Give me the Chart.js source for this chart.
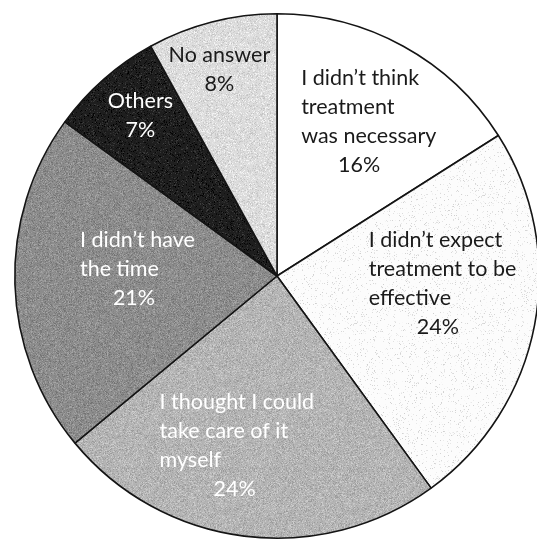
<!DOCTYPE html>
<html>
<head>
<meta charset="utf-8">
<script src="https://cdn.jsdelivr.net/npm/chart.js@4"></script>
<style>
  html, body { margin: 0; padding: 0; background: #fff; overflow: hidden; }
  body { width: 537px; height: 539px; position: relative; }
  #wrap { position: absolute; left: 2px; top: 1px; width: 550px; height: 550px; }
</style>
</head>
<body>
<div id="wrap"><canvas id="reasons" width="550" height="550"></canvas></div>
<script>
// reasons for not seeking treatment, share of answers (%)
const reasons = [
  ['I didn\u2019t think', 'treatment', 'was necessary'],
  ['I didn\u2019t expect', 'treatment to be', 'effective'],
  ['I thought I could', 'take care of it', 'myself'],
  ['I didn\u2019t have', 'the time'],
  ['Others'],
  ['No answer']
];
const shares = [16, 24, 24, 21, 7, 8];

// grey level, grain spread and how many pixels get grain (0..1)
const shades = [
  { grey: 255, spread: 0, amount: 0 },
  { grey: 252, spread: 45, amount: 0.1 },
  { grey: 180, spread: 28, amount: 0.6 },
  { grey: 140, spread: 28, amount: 0.6 },
  { grey: 30, spread: 35, amount: 0.35 },
  { grey: 220, spread: 28, amount: 0.5 }
];
const inks = ['#1a1a1a', '#1a1a1a', '#ffffff', '#ffffff', '#ffffff', '#1a1a1a'];

// label placement relative to each slice's centroid:
// dx = left edge (or centre when centred), dy = first baseline, px = centre of the % line
const labelPlace = [
  { dx: -39, dy: -76, px: 19 },
  { dx: -37, dy: -54, px: 32 },
  { dx: -101, dy: 3, px: -26 },
  { dx: -66, dy: -33, px: -12 },
  { dx: -50, dy: -70, center: true },
  { dx: -25, dy: -87, center: true }
];
const lineStep = 29;

// cheap integer hash so the grain is the same on every load
const hash = (x, y, k) => {
  let h = Math.imul(x, 374761393) + Math.imul(y, 668265263) + Math.imul(k, 2246822519);
  h = Math.imul(h ^ (h >>> 13), 1274126177);
  return ((h ^ (h >>> 16)) >>> 0) / 4294967296;
};

const grain = (shade, k) => {
  const size = 128;
  const tile = document.createElement('canvas');
  tile.width = tile.height = size;
  const tctx = tile.getContext('2d');
  const img = tctx.createImageData(size, size);
  for (let y = 0; y < size; y++) {
    for (let x = 0; x < size; x++) {
      let v = shade.grey;
      if (hash(x, y, k) < shade.amount) {
        v += (hash(x, y, k + 17) - 0.5) * 2 * shade.spread;
        if (shade.grey > 240) v = shade.grey - hash(x, y, k + 31) * shade.spread;
      }
      v = Math.max(0, Math.min(255, Math.round(v)));
      const o = (y * size + x) * 4;
      img.data[o] = img.data[o + 1] = img.data[o + 2] = v;
      img.data[o + 3] = 255;
    }
  }
  tctx.putImageData(img, 0, 0);
  return tctx.createPattern(tile, 'repeat');
};

const sliceLabels = {
  id: 'sliceLabels',
  afterDatasetsDraw(chart) {
    const ctx = chart.ctx;
    const arcs = chart.getDatasetMeta(0).data;
    ctx.save();
    ctx.font = '21.5px Lato, "Liberation Sans", sans-serif';
    ctx.textBaseline = 'alphabetic';
    arcs.forEach((arc, i) => {
      const pos = arc.tooltipPosition();
      const place = labelPlace[i];
      ctx.fillStyle = inks[i];
      let y = pos.y + place.dy;
      reasons[i].forEach(line => {
        ctx.textAlign = place.center ? 'center' : 'left';
        ctx.fillText(line, pos.x + place.dx, y);
        y += lineStep;
      });
      ctx.textAlign = 'center';
      const pctX = place.center ? pos.x + place.dx : pos.x + place.px;
      ctx.fillText(shares[i] + '%', pctX, y);
    });
    ctx.restore();
  }
};

new Chart(document.getElementById('reasons'), {
  type: 'pie',
  data: {
    labels: reasons.map(r => r.join(' ')),
    datasets: [{
      data: shares,
      backgroundColor: shades.map((s, i) => grain(s, i + 1)),
      borderColor: '#141414',
      borderWidth: 1.6
    }]
  },
  options: {
    responsive: false,
    animation: false,
    layout: { padding: 12 },
    plugins: {
      legend: { display: false },
      tooltip: { enabled: false }
    }
  },
  plugins: [sliceLabels]
});
</script>
</body>
</html>
